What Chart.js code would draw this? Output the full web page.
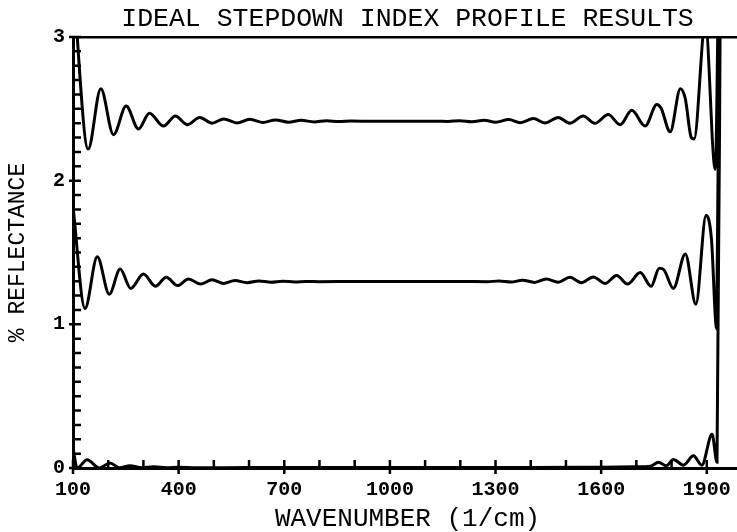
<!DOCTYPE html>
<html>
<head>
<meta charset="utf-8">
<title>Ideal stepdown index profile results</title>
<script src="https://cdn.jsdelivr.net/npm/chart.js@4.4.1/dist/chart.umd.min.js"></script>
<style>
  html, body { margin: 0; padding: 0; background: #fff; overflow: hidden; }
  #wrap { width: 737px; height: 532px; overflow: hidden; position: relative; }
  canvas { display: block; }
</style>
</head>
<body>
<div id="wrap"><canvas id="myChart" width="742" height="532"></canvas></div>
<script>
// values (wavenumber in 1/cm, % reflectance)
const topWave = [100, 143, 179, 215, 251, 286, 317, 357, 391, 424, 460, 495, 528, 566, 602, 640, 675, 712, 748, 785,
  820, 855, 890, 950, 1050, 1130, 1165, 1198, 1233, 1268, 1300, 1338, 1370, 1408, 1440, 1478, 1511, 1549, 1582, 1620,
  1654, 1687, 1725, 1758, 1770, 1796, 1825, 1839, 1856, 1864, 1896, 1924, 1936];
const topRefl = [3.40, 2.22, 2.64, 2.32, 2.52, 2.36, 2.47, 2.38, 2.45, 2.39, 2.44, 2.40, 2.43, 2.402, 2.428, 2.405, 2.423, 2.407, 2.420, 2.409,
  2.417, 2.411, 2.415, 2.413, 2.413, 2.414, 2.412, 2.417, 2.410, 2.420, 2.407, 2.425, 2.404, 2.432, 2.401, 2.440, 2.400, 2.450, 2.399, 2.460,
  2.390, 2.490, 2.380, 2.530, 2.505, 2.340, 2.640, 2.570, 2.300, 2.290, 3.10, 2.08, 4.0];

const midWave = [100, 134, 169, 203, 234, 264, 300, 334, 365, 397, 428, 462, 495, 528, 560, 595, 628, 662, 695, 730,
  762, 800, 900, 1000, 1100, 1200, 1276, 1310, 1344, 1377, 1411, 1444, 1478, 1511, 1544, 1578, 1611, 1644, 1675, 1711,
  1742, 1765, 1778, 1805, 1839, 1869, 1898, 1913, 1928, 1938];
const midRefl = [1.82, 1.11, 1.47, 1.21, 1.385, 1.25, 1.35, 1.265, 1.327, 1.27, 1.315, 1.28, 1.31, 1.285, 1.305, 1.290, 1.302, 1.293, 1.300, 1.295,
  1.299, 1.297, 1.298, 1.298, 1.298, 1.298, 1.297, 1.301, 1.294, 1.307, 1.292, 1.315, 1.293, 1.327, 1.290, 1.330, 1.285, 1.340, 1.280, 1.360,
  1.265, 1.390, 1.380, 1.250, 1.490, 1.140, 1.760, 1.600, 0.970, 4.0];

const lowWave = [100, 112, 140, 175, 205, 232, 262, 295, 330, 365, 400, 450, 600, 1000, 1400, 1600, 1700, 1740, 1763, 1785,
  1805, 1834, 1862, 1886, 1915, 1929, 1940];
const lowRefl = [0.14, 0.00, 0.058, 0.00, 0.035, 0.002, 0.016, 0.002, 0.008, 0.002, 0.005, 0.002, 0.003, 0.003, 0.003, 0.006, 0.008, 0.012, 0.040, 0.015,
  0.060, 0.020, 0.085, 0.020, 0.235, 0.040, 4.0];

const labelWaves = [100, 400, 700, 1000, 1300, 1600, 1900];
const labelRefl = [0, 1, 2, 3];

function toPoints(xs, ys) {
  return xs.map((x, i) => ({ x: x, y: ys[i] }));
}

function isMajorX(v) {
  return labelWaves.includes(Math.round(v));
}
function isMajorY(v) {
  return labelRefl.some(r => Math.abs(v - r) < 1e-6);
}

// little inward ticks like the plotter drew, majors cross the axis
const tickMarks = {
  id: 'tickMarks',
  afterDraw(chart) {
    const { ctx, chartArea: a, scales: { x, y } } = chart;
    ctx.save();
    ctx.strokeStyle = '#000';
    ctx.lineWidth = 2.5;
    ctx.beginPath();
    x.ticks.forEach(t => {
      const px = x.getPixelForValue(t.value);
      ctx.moveTo(px, a.bottom - 8);
      ctx.lineTo(px, isMajorX(t.value) ? a.bottom + 6 : a.bottom);
    });
    y.ticks.forEach(t => {
      const py = y.getPixelForValue(t.value);
      ctx.moveTo(isMajorY(t.value) ? a.left - 4 : a.left, py);
      ctx.lineTo(a.left + 8, py);
    });
    ctx.stroke();
    ctx.restore();
  }
};

Chart.defaults.font.family = "'Liberation Mono', 'DejaVu Sans Mono', monospace";
Chart.defaults.color = '#000';

const lineStyle = {
  borderColor: '#000',
  borderWidth: 3,
  pointRadius: 0,
  fill: false,
  cubicInterpolationMode: 'monotone'
};

const ctx = document.getElementById('myChart').getContext('2d');
const myChart = new Chart(ctx, {
  type: 'line',
  data: {
    datasets: [
      Object.assign({ label: 'top', data: toPoints(topWave, topRefl) }, lineStyle),
      Object.assign({ label: 'middle', data: toPoints(midWave, midRefl) }, lineStyle),
      Object.assign({ label: 'bottom', data: toPoints(lowWave, lowRefl) }, lineStyle)
    ]
  },
  options: {
    responsive: false,
    maintainAspectRatio: false,
    animation: false,
    devicePixelRatio: 1,
    layout: { padding: 0 },
    plugins: {
      legend: { display: false },
      tooltip: { enabled: false },
      title: {
        display: true,
        text: 'IDEAL STEPDOWN INDEX PROFILE RESULTS',
        fullSize: false,
        color: '#000',
        font: { size: 26.5, weight: 'normal', lineHeight: 1.2 },
        padding: { top: 2.7, bottom: 2.5 }
      }
    },
    scales: {
      x: {
        type: 'linear',
        min: 100,
        max: 2000,
        afterFit: scale => {
          scale.height = 64;
          scale.paddingLeft = 0;
          scale.paddingRight = 0;
        },
        border: { display: true, color: '#000', width: 3 },
        grid: { drawOnChartArea: false, drawTicks: false, color: 'transparent' },
        ticks: {
          stepSize: 100,
          autoSkip: false,
          maxRotation: 0,
          padding: 10,
          font: { size: 20, weight: 'bold' },
          callback: v => isMajorX(v) ? String(Math.round(v)) : ''
        },
        title: {
          display: true,
          text: 'WAVENUMBER (1/cm)',
          font: { size: 26, lineHeight: 1 },
          padding: { top: 0, bottom: 0 }
        }
      },
      y: {
        min: 0,
        max: 3,
        afterFit: scale => { scale.width = 73; },
        border: { display: true, color: '#000', width: 3 },
        grid: {
          drawTicks: false,
          lineWidth: 2.5,
          color: c => (c.tick && Math.abs(c.tick.value - 3) < 1e-6) ? '#000' : 'transparent'
        },
        ticks: {
          stepSize: 0.1,
          autoSkip: false,
          padding: 8,
          font: { size: 20, weight: 'bold' },
          callback: v => isMajorY(v) ? String(Math.round(v)) : ''
        },
        title: {
          display: true,
          text: '% REFLECTANCE',
          font: { size: 23, lineHeight: 1 },
          padding: { top: 6.5, bottom: 0 }
        }
      }
    }
  },
  plugins: [tickMarks]
});
</script>
</body>
</html>
